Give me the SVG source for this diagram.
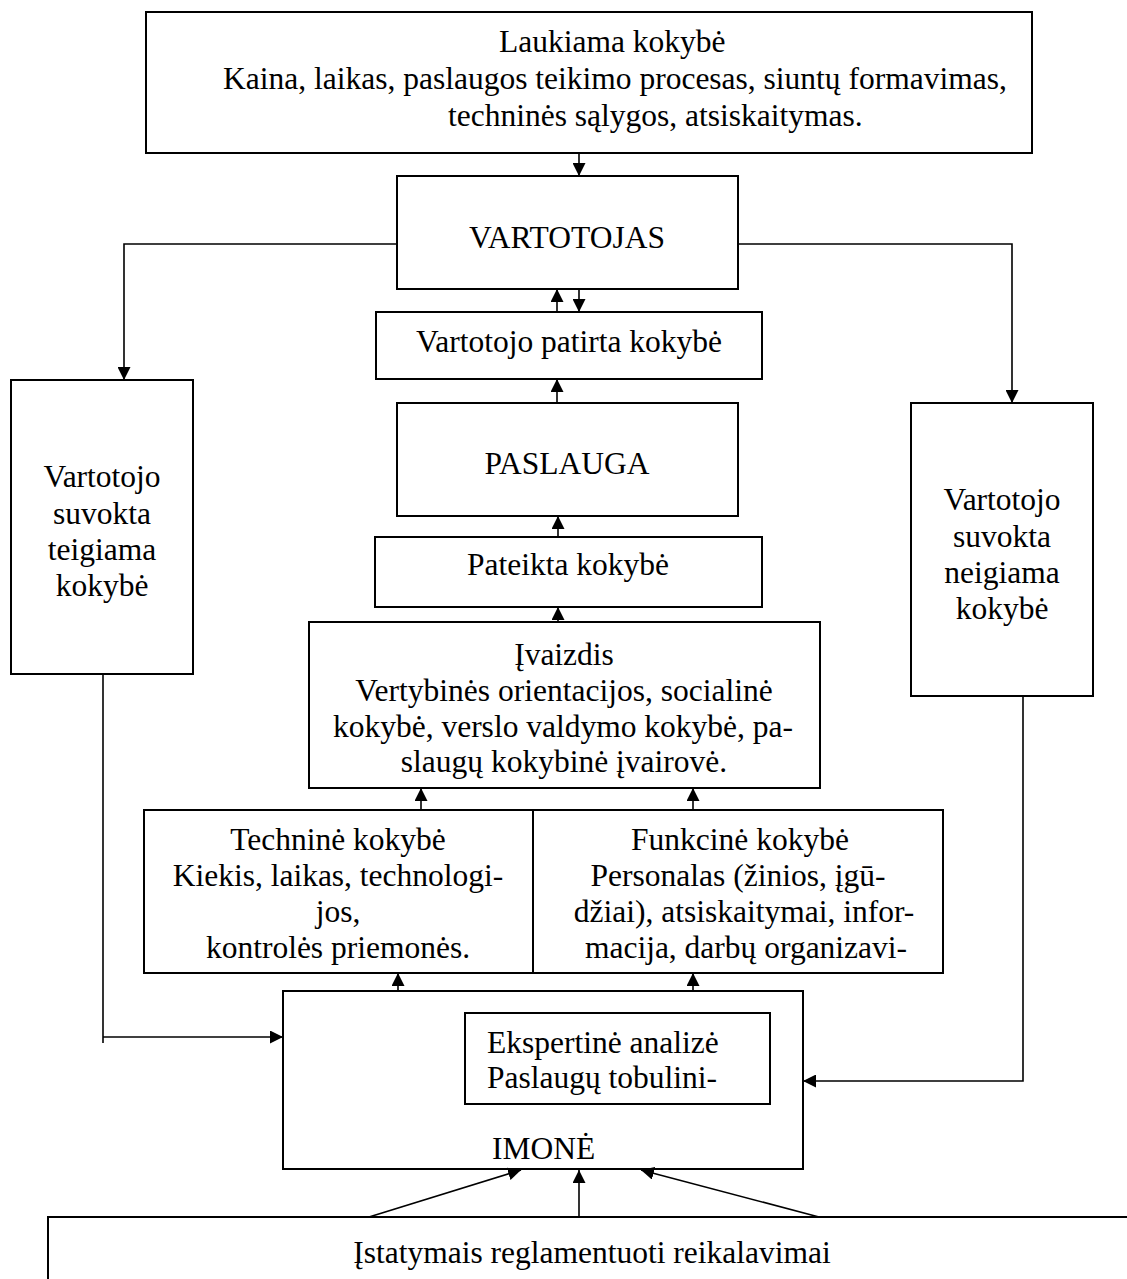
<svg xmlns="http://www.w3.org/2000/svg" width="1127" height="1279" viewBox="0 0 1127 1279">
  <style>
    .box { fill: #ffffff; stroke: #000000; stroke-width: 2; }
    .wire { fill: none; stroke: #000000; stroke-width: 1.6; }
    .arr { fill: none; stroke: #000000; stroke-width: 1.6; marker-end: url(#head); }
    text { font-family: "Liberation Serif", "Times New Roman", serif; font-size: 31.5px; fill: #000000; }
    .c { text-anchor: middle; }
  </style>
  <defs>
    <marker id="head" viewBox="0 0 13 13" refX="13" refY="6.5" markerWidth="13" markerHeight="13" markerUnits="userSpaceOnUse" orient="auto">
      <path d="M0,0 L13,6.5 L0,13 z" fill="#000000"/>
    </marker>
  </defs>
  <rect width="1127" height="1279" fill="#ffffff"/>

  <!-- expected quality -->
  <g id="laukiama">
    <rect class="box" x="146" y="12" width="886" height="141"/>
    <text x="499" y="52">Laukiama kokybė</text>
    <text x="223" y="89">Kaina, laikas, paslaugos teikimo procesas, siuntų formavimas,</text>
    <text x="448" y="126">techninės sąlygos, atsiskaitymas.</text>
  </g>

  <g id="vartotojas">
    <rect class="box" x="397" y="176" width="341" height="113"/>
    <text class="c" x="567" y="248">VARTOTOJAS</text>
  </g>

  <g id="patirta">
    <rect class="box" x="376" y="312" width="386" height="67"/>
    <text class="c" x="569" y="352">Vartotojo patirta kokybė</text>
  </g>

  <g id="paslauga">
    <rect class="box" x="397" y="403" width="341" height="113"/>
    <text class="c" x="567" y="474">PASLAUGA</text>
  </g>

  <g id="pateikta">
    <rect class="box" x="375" y="537" width="387" height="70"/>
    <text class="c" x="568" y="575">Pateikta kokybė</text>
  </g>

  <g id="ivaizdis">
    <rect class="box" x="309" y="622" width="511" height="166"/>
    <text class="c" x="564" y="665">Įvaizdis</text>
    <text class="c" x="564" y="701">Vertybinės orientacijos, socialinė</text>
    <text class="c" x="563" y="737">kokybė, verslo valdymo kokybė, pa-</text>
    <text class="c" x="564" y="772">slaugų kokybinė įvairovė.</text>
  </g>

  <g id="teigiama">
    <rect class="box" x="11" y="380" width="182" height="294"/>
    <text class="c" x="102" y="487">Vartotojo</text>
    <text class="c" x="102" y="524">suvokta</text>
    <text class="c" x="102" y="560">teigiama</text>
    <text class="c" x="102" y="596">kokybė</text>
  </g>

  <g id="neigiama">
    <rect class="box" x="911" y="403" width="182" height="293"/>
    <text class="c" x="1002" y="510">Vartotojo</text>
    <text class="c" x="1002" y="547">suvokta</text>
    <text class="c" x="1002" y="583">neigiama</text>
    <text class="c" x="1002" y="619">kokybė</text>
  </g>

  <g id="technine">
    <rect class="box" x="144" y="810" width="389" height="163"/>
    <text class="c" x="338" y="850">Techninė kokybė</text>
    <text class="c" x="338" y="886">Kiekis, laikas, technologi-</text>
    <text class="c" x="338" y="922">jos,</text>
    <text class="c" x="338" y="958">kontrolės priemonės.</text>
  </g>

  <g id="funkcine">
    <rect class="box" x="533" y="810" width="410" height="163"/>
    <text class="c" x="740" y="850">Funkcinė kokybė</text>
    <text class="c" x="738" y="886">Personalas (žinios, įgū-</text>
    <text class="c" x="744" y="922">džiai), atsiskaitymai, infor-</text>
    <text class="c" x="746" y="958">macija, darbų organizavi-</text>
  </g>

  <g id="imone">
    <rect class="box" x="283" y="991" width="520" height="178"/>
    <text x="492" y="1159">IMONĖ</text>
  </g>

  <g id="ekspertine">
    <rect class="box" x="465" y="1013" width="305" height="91"/>
    <text x="487" y="1053">Ekspertinė analizė</text>
    <text x="487" y="1088">Paslaugų tobulini-</text>
  </g>

  <g id="istatymai">
    <path class="box" d="M48,1279 V1217 H1127" fill="none"/>
    <text class="c" x="592" y="1263">Įstatymais reglamentuoti reikalavimai</text>
  </g>

  <!-- connectors -->
  <g id="connectors">
    <path class="arr" d="M579,153 V176"/>
    <path class="arr" d="M557,312 V289"/>
    <path class="arr" d="M579,289 V312"/>
    <path class="arr" d="M557,403 V379"/>
    <path class="arr" d="M558,537 V516"/>
    <path class="arr" d="M558,622 V607"/>
    <path class="arr" d="M421,810 V788"/>
    <path class="arr" d="M693,810 V788"/>
    <path class="arr" d="M398,991 V973"/>
    <path class="arr" d="M693,991 V973"/>
    <path class="arr" d="M397,244 H124 V380"/>
    <path class="arr" d="M738,244 H1012 V403"/>
    <path class="wire" d="M103,674 V1043"/>
    <path class="arr" d="M103,1037 H283"/>
    <path class="arr" d="M1023,696 V1081 H803"/>
    <path class="arr" d="M369,1217 L521,1170"/>
    <path class="arr" d="M579,1217 V1170"/>
    <path class="arr" d="M819,1217 L641,1170"/>
  </g>
</svg>
